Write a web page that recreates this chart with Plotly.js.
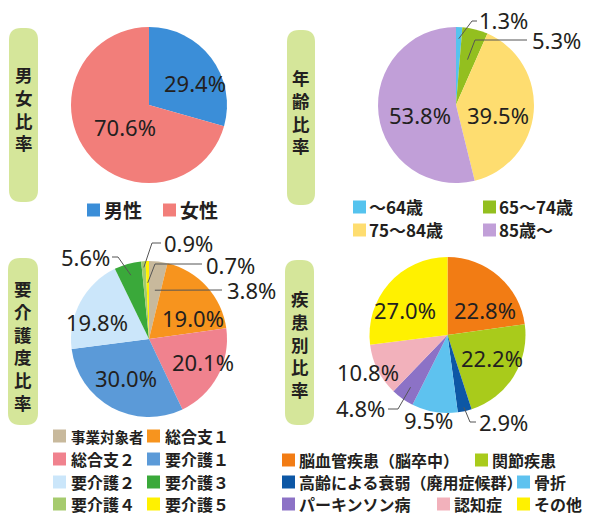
<!DOCTYPE html>
<html><head><meta charset="utf-8">
<script src="https://cdn.plot.ly/plotly-3.0.1.min.js"></script>
<style>html,body{margin:0;padding:0;background:#fff}</style>
</head><body><div id="chart" style="width:589px;height:517px"></div>
<script>
// ---- data ----
const panelTitles = ['男女比率', '年齢比率', '要介護度比率', '疾患別比率'];

const genderLabels = ['男性', '女性'];
const genderValues = [29.4, 70.6];
const genderColors = ['#3b8ed8', '#f27e7a'];

const ageLabels = ['～64歳', '65～74歳', '75～84歳', '85歳～'];
const ageValues = [1.3, 5.3, 39.5, 53.8];
const ageColors = ['#55c3ee', '#93bf1f', '#fedd70', '#c19fd8'];

const careLabels = ['事業対象者', '総合支１', '総合支２', '要介護１', '要介護２', '要介護３', '要介護４', '要介護５'];
const careValues = [3.8, 19.0, 20.1, 30.0, 19.8, 5.6, 0.9, 0.7];
const careColors = ['#c8b99c', '#f7941e', '#f0828e', '#5b9ad8', '#cbe6fa', '#3aa93a', '#a6cb6e', '#fff100'];

const diseaseLabels = ['脳血管疾患（脳卒中）', '関節疾患', '高齢による衰弱（廃用症候群）', '骨折', 'パーキンソン病', '認知症', 'その他'];
const diseaseValues = [22.8, 22.2, 2.9, 9.5, 4.8, 10.8, 27.0];
const diseaseColors = ['#f27c14', '#a9cb1b', '#0d57a5', '#5ec2ef', '#8c72c6', '#f2b1bb', '#fff100'];

// ---- layout helpers (pixels -> paper) ----
const W = 589, H = 517;
const px = x => x / W;
const py = y => 1 - y / H;

const CJK = '"Noto Sans CJK JP", "Noto Sans", sans-serif';
const NUM = '"Noto Sans", "Noto Sans CJK JP", sans-serif';
const TXT = '#231f20';

// pie geometry and label placement (layout only)
const pies = [
  { labels: genderLabels, values: genderValues, colors: genderColors, cx: 149, cy: 105, r: 78,
    text: [{x: 195, y: 83}, {x: 125, y: 127}],
    legend: { size: 19, sq: 13, gap: 16, items: [[87, 210], [163, 210]] } },
  { labels: ageLabels, values: ageValues, colors: ageColors, cx: 456, cy: 105, r: 78,
    text: [
      {x: 503, y: 20, k: 0.85, elbow: [472, 21], end: [477, 21]},
      {x: 556, y: 40, k: 0.6, elbow: [475, 40], end: [527, 40]},
      {x: 498, y: 115}, {x: 420, y: 115}],
    legend: { size: 17, sq: 13, gap: 15, items: [[353, 207], [483, 207], [353, 230], [483, 230]] } },
  { labels: careLabels, values: careValues, colors: careColors, cx: 149, cy: 339, r: 78,
    text: [
      {x: 251, y: 290, k: 0.63, elbow: null, end: [222, 290]},
      {x: 193, y: 318}, {x: 203, y: 362}, {x: 126, y: 378}, {x: 97, y: 322},
      {x: 85, y: 257, k: 0.85, elbow: [118, 257], end: [112, 257]},
      {x: 188, y: 243, k: 0.92, elbow: [152, 243], end: [161, 243]},
      {x: 230, y: 265, k: 0.72, elbow: [155, 264], end: [202, 264]}],
    legend: { size: 16, sq: 13, gap: 17, items: [[53, 436], [147, 436], [53, 459], [147, 459], [53, 482], [147, 482], [53, 504], [147, 504]], shrink: {0: 14.5} } },
  { labels: diseaseLabels, values: diseaseValues, colors: diseaseColors, cx: 447.5, cy: 335, r: 78,
    text: [
      {x: 485, y: 310}, {x: 492, y: 358},
      {x: 503, y: 422, k: 0.95, elbow: [470, 422], end: [476, 422]},
      {x: 428, y: 420},
      {x: 360, y: 408, k: 0.82, elbow: [398, 409], end: [388, 409]},
      {x: 368, y: 372}, {x: 405, y: 310}],
    legend: { size: 16, sq: 13, gap: 16, items: [[282, 460], [475, 460], [282, 482], [517, 482], [282, 504], [437, 504], [517, 504]] } }
];

const traces = [];
const annotations = [];
const shapes = [];

// title bars
const bars = [
  { x0: 9, x1: 38, y0: 28, y1: 202, cy: 108.5, title: panelTitles[0] },
  { x0: 287, x1: 315, y0: 30, y1: 205, cy: 111.5, title: panelTitles[1] },
  { x0: 8, x1: 38, y0: 258, y1: 425, cy: 345, title: panelTitles[2] },
  { x0: 285, x1: 314, y0: 260, y1: 425, cy: 343.5, title: panelTitles[3] }
];
function roundRect(x0, y0, x1, y1, r) {
  return `M${px(x0 + r)},${py(y0)} L${px(x1 - r)},${py(y0)} Q${px(x1)},${py(y0)} ${px(x1)},${py(y0 + r)} ` +
    `L${px(x1)},${py(y1 - r)} Q${px(x1)},${py(y1)} ${px(x1 - r)},${py(y1)} ` +
    `L${px(x0 + r)},${py(y1)} Q${px(x0)},${py(y1)} ${px(x0)},${py(y1 - r)} ` +
    `L${px(x0)},${py(y0 + r)} Q${px(x0)},${py(y0)} ${px(x0 + r)},${py(y0)} Z`;
}
bars.forEach(b => {
  shapes.push({ type: 'path', xref: 'paper', yref: 'paper', path: roundRect(b.x0, b.y0, b.x1, b.y1, 12),
    fillcolor: '#d5e69a', line: { width: 0 }, layer: 'below' });
  const xc = (b.x0 + b.x1) / 2;
  annotations.push({ xref: 'paper', yref: 'paper', x: px(xc), y: py(b.cy), xanchor: 'center', yanchor: 'middle',
    text: Array.from(b.title).join('<br>'), showarrow: false, borderpad: 0,
    font: { family: CJK, size: 17.5, color: TXT, weight: 'bold' } });
});

pies.forEach((p, pi) => {
  traces.push({
    type: 'pie', labels: p.labels, values: p.values, sort: false, direction: 'clockwise', rotation: 0,
    marker: { colors: p.colors, line: { width: 0 } }, textinfo: 'none', hoverinfo: 'label+percent',
    showlegend: false,
    domain: { x: [px(p.cx - p.r), px(p.cx + p.r)], y: [py(p.cy + p.r), py(p.cy - p.r)] }
  });
  const total = p.values.reduce((a, b) => a + b, 0);
  let cum = 0;
  p.values.forEach((v, i) => {
    const t = p.text[i];
    const mid = (cum + v / 2) / total;
    cum += v;
    annotations.push({ xref: 'paper', yref: 'paper', x: px(t.x), y: py(t.y), xanchor: 'center', yanchor: 'middle',
      text: v.toFixed(1) + '%', showarrow: false, borderpad: 0, font: { family: NUM, size: 22, color: TXT } });
    if (t.k !== undefined) {
      const th = 2 * Math.PI * mid;
      const tx = p.cx + p.r * t.k * Math.sin(th);
      const ty = p.cy - p.r * t.k * Math.cos(th);
      let path = `M${px(tx)},${py(ty)}`;
      if (t.elbow) path += ` L${px(t.elbow[0])},${py(t.elbow[1])}`;
      path += ` L${px(t.end[0])},${py(t.end[1])}`;
      shapes.push({ type: 'path', xref: 'paper', yref: 'paper', path: path, line: { color: '#555', width: 1 } });
    }
  });
  // legend items
  const L = p.legend;
  p.labels.forEach((lab, i) => {
    const [sx, sy] = L.items[i];
    shapes.push({ type: 'rect', xref: 'paper', yref: 'paper', x0: px(sx), x1: px(sx + L.sq),
      y0: py(sy + L.sq / 2), y1: py(sy - L.sq / 2), fillcolor: p.colors[i], line: { width: 0 } });
    const fs = (L.shrink && L.shrink[i]) ? L.shrink[i] : L.size;
    annotations.push({ xref: 'paper', yref: 'paper', x: px(sx + L.gap), y: py(sy), xanchor: 'left', yanchor: 'middle',
      text: lab, showarrow: false, borderpad: 0, font: { family: CJK, size: fs, color: TXT, weight: 'bold' } });
  });
});

const layout = {
  width: W, height: H, margin: { l: 0, r: 0, t: 0, b: 0 },
  paper_bgcolor: '#ffffff', plot_bgcolor: '#ffffff',
  showlegend: false, annotations: annotations, shapes: shapes
};
Plotly.newPlot('chart', traces, layout, { displayModeBar: false, staticPlot: true });
</script></body></html>
